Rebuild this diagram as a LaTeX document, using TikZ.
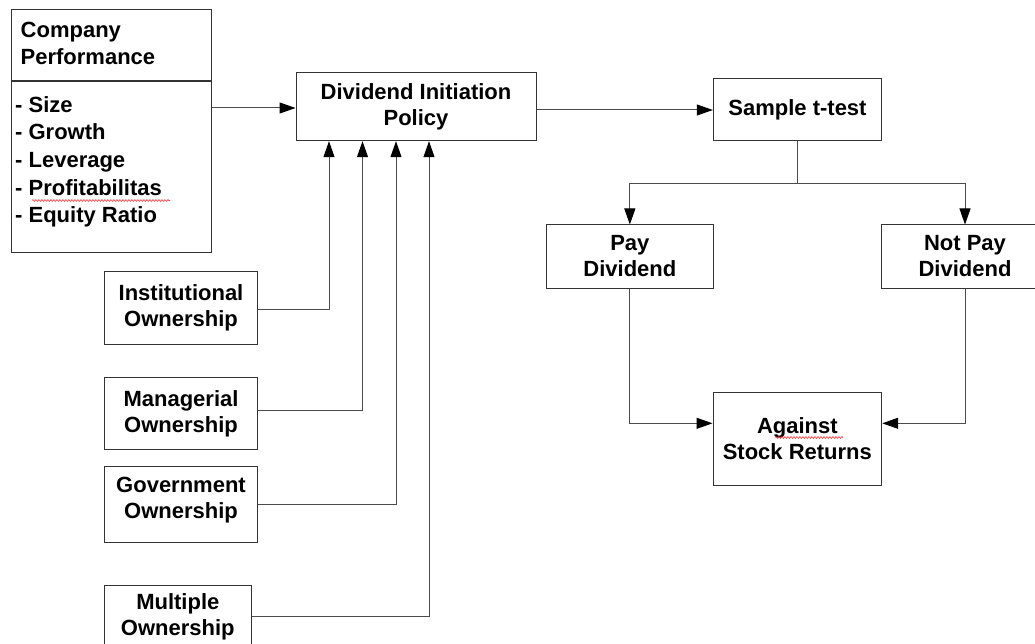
\documentclass[tikz,border=0pt]{standalone}
\usepackage{fontspec}
\setmainfont{Liberation Sans}
\usetikzlibrary{arrows.meta,decorations.pathmorphing}
\begin{document}
\begin{tikzpicture}[x=1pt,y=-1pt,
  box/.style={draw=black!80, line width=1pt, fill=white, align=center, inner sep=0pt,
    font=\bfseries\fontsize{22}{26}\selectfont},
  txt/.style={inner sep=0pt, anchor=base west, font=\bfseries\fontsize{22}{26}\selectfont},
  wire/.style={draw=black!70, line width=1pt},
  arr/.style={wire, -{Triangle[length=16pt,width=11pt,color=black]}},
  spell/.style={draw=red!80, line width=0.6pt, decorate,
    decoration={snake, amplitude=0.9pt, segment length=3pt}}]
\useasboundingbox (0,0) rectangle (1035,644);
\clip (0,0) rectangle (1035,644);

% boxes
\node[box, minimum width=200pt, minimum height=242pt] (cp) at (111,131) {};
\node[box, minimum width=240pt, minimum height=68pt] (dip) at (416,106.7) {Dividend Initiation\\Policy};
\node[box, minimum width=168.4pt, minimum height=62.4pt] (stt) at (797.5,109.5) {Sample t-test};
\node[box, minimum width=166.3pt, minimum height=63pt] (pay) at (629.85,256.5) {Pay\\Dividend};
\node[box, minimum width=166.6pt, minimum height=63pt] (np) at (965,256.5) {Not Pay\\Dividend};
\node[box, minimum width=168.7pt, minimum height=92.3pt] (asr) at (797.35,438.85) {Against\\Stock Returns};
\node[box, minimum width=153.4pt, minimum height=72.6pt] (inst) at (181,308) {Institutional\\Ownership};
\node[box, minimum width=153.4pt, minimum height=71.6pt] (man) at (181,413.5) {Managerial\\Ownership};
\node[box, minimum width=153.4pt, minimum height=76pt, text depth=14pt] (gov) at (181,504.7) {Government\\Ownership};
\node[box, minimum width=147pt, minimum height=62.6pt] (mul) at (177.8,617) {Multiple\\Ownership};

% company performance contents
\draw[line width=2pt, black!80] (cp.west |- 0,81) -- (cp.east |- 0,81);
\node[txt] (t1) at (20.5,38) {Company};
\node[txt] (t2) at (20.5,65) {Performance};
\node[txt] (l1) at (15,113) {- Size};
\node[txt] (l2) at (15,140) {- Growth};
\node[txt] (l3) at (15,168) {- Leverage};
\node[txt] (l4) at (15,195.5) {- Profitabilitas};
\node[txt] (l5) at (15,223) {- Equity Ratio};

% spell-check marks
\draw[spell] (32,200.5) -- (170,200.5);
\draw[spell] (775,437.5) -- (843,437.5);

% coordinates for vertical feed lines
\coordinate (x1) at (329,0);
\coordinate (x2) at (362.5,0);
\coordinate (x3) at (396,0);
\coordinate (x4) at (429,0);
\coordinate (jn) at (797.5,184);

% connectors
\draw[arr] (cp.east |- 0,108) -- (dip.west |- 0,108);
\draw[arr] (dip.east |- 0,110) -- (stt.west |- 0,110);
\draw[wire] (stt.south) -- (jn);
\draw[arr] (jn) -| (pay.north);
\draw[arr] (jn) -| (np.north);
\draw[arr] (pay.south) |- (asr.west |- 0,423.3);
\draw[arr] (np.south) |- (asr.east |- 0,423.3);
\draw[arr] (inst.east |- 0,309) -| (dip.south -| x1);
\draw[arr] (man.east |- 0,410.7) -| (dip.south -| x2);
\draw[arr] (gov.east |- 0,504) -| (dip.south -| x3);
\draw[arr] (mul.east |- 0,616.7) -| (dip.south -| x4);
\end{tikzpicture}
\end{document}
